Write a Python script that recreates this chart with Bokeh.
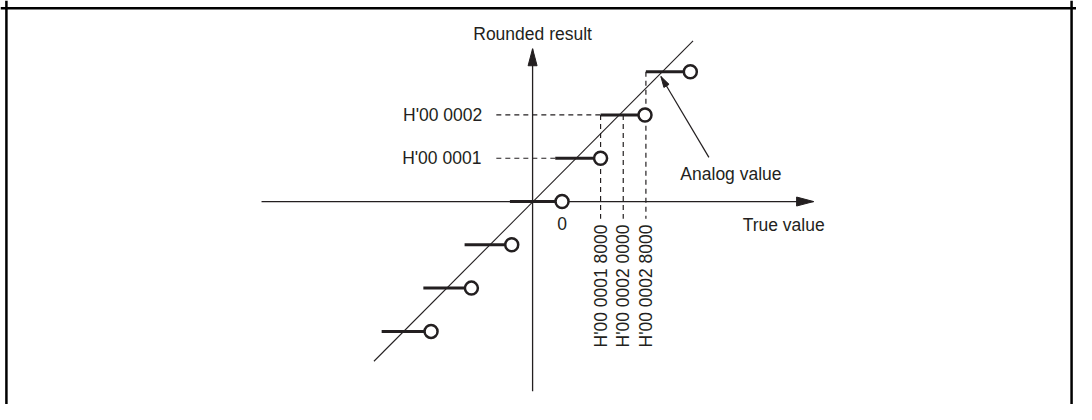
import math
from bokeh.plotting import figure
from bokeh.models import Range1d, Span
from bokeh.embed import file_html
from bokeh.resources import INLINE
from bokeh.core.properties import value

# ---------------- data (units: one LSB step) ----------------
levels = [-3, -2, -1, 0, 1, 2, 3]
step_start = [-3.33, -2.41, -1.50, -0.50, 0.50, 1.50, 2.50]
step_end = [-2.24, -1.35, -0.46, 0.65, 1.50, 2.48, 3.48]

analog_x = [-3.50, 3.54]
analog_y = [-3.69, 3.71]

x_axis_x = [-5.98, 6.20]
y_axis_y = [-4.38, 3.53]

y_tick_values = [1, 2]
y_tick_labels = ["H'00 0001", "H'00 0002"]
y_tick_label_x = [-1.13, -1.11]
y_guide_start = [-0.80, -0.80]
y_guide_end = [0.50, 1.50]

x_tick_values = [1.5, 2.0, 2.5]
x_tick_labels = ["H'00 0001 8000", "H'00 0002 0000", "H'00 0002 8000"]
x_guide_top = [2, 2, 3]
x_guide_bottom = [-0.40, -0.40, -0.40]
x_tick_label_top = [-0.53, -0.53, -0.53]

zero_label = ["0"]
zero_x = [0.65]
zero_y = [-0.51]

y_title = ["Rounded result"]
y_title_x = [0.0]
y_title_y = [3.87]

x_title = ["True value"]
x_title_x = [5.54]
x_title_y = [-0.55]

note_text = ["Analog value"]
note_x = [3.26]
note_y = [0.64]
note_arrow_from = (3.89, 1.02)
note_arrow_to = (2.83, 2.89)

# ---------------- layout ----------------
W, H = 1076, 404
SX, SY = W / 1092.0, H / 420.0
XU, YU = 46.0 * SX, 45.0 * SY          # pixels per unit
INK = "#231f20"
FONT = value("Liberation Sans")

x_start, x_end = -540 / 46.0, (1092 - 540) / 46.0
y_start, y_end = -(420 - 209) / 45.0, 209 / 45.0

p = figure(width=W, height=H, output_backend="svg", toolbar_location=None,
           x_range=Range1d(x_start, x_end), y_range=Range1d(y_start, y_end),
           x_axis_type=None, y_axis_type=None, min_border=0)
p.grid.visible = False
p.outline_line_color = None
p.background_fill_color = "white"
p.border_fill_color = "white"

# frame border (left, top, right)
for loc, dim in [(x_start + 6.0 / 46.0, "height"),
                 (y_end - 8.0 / 45.0, "width"),
                 (x_end - 5.0 / 46.0, "height")]:
    p.add_layout(Span(location=loc, dimension=dim, line_color="black", line_width=2.5))


def head(tip, frm, length_px, half_px):
    dx = (tip[0] - frm[0]) * XU
    dy = (tip[1] - frm[1]) * YU
    L = math.hypot(dx, dy)
    ux, uy = dx / L, dy / L
    nx, ny = -uy, ux
    bx, by = -ux * length_px, -uy * length_px
    pts = [(0, 0), (bx + nx * half_px, by + ny * half_px), (bx - nx * half_px, by - ny * half_px)]
    return [tip[0] + q[0] / XU for q in pts], [tip[1] + q[1] / YU for q in pts]


# axes
p.line(x_axis_x, [0, 0], line_color=INK, line_width=1.3)
p.line([0, 0], y_axis_y, line_color=INK, line_width=1.3)
hx, hy = head((x_axis_x[1], 0), (x_axis_x[0], 0), 17, 4.5)
p.patch(hx, hy, fill_color=INK, line_color=INK, line_width=1)
hx, hy = head((0, y_axis_y[1]), (0, y_axis_y[0]), 17, 4.5)
p.patch(hx, hy, fill_color=INK, line_color=INK, line_width=1)

# guides
p.segment(x0=y_guide_start, y0=y_tick_values, x1=y_guide_end, y1=y_tick_values,
          line_color=INK, line_width=1.2, line_dash="5 4")
p.segment(x0=x_tick_values, y0=x_guide_top, x1=x_tick_values, y1=x_guide_bottom,
          line_color=INK, line_width=1.2, line_dash="5 4")

# analog value line
p.line(analog_x, analog_y, line_color=INK, line_width=1.1)

# rounding steps
p.segment(x0=step_start, y0=levels, x1=step_end, y1=levels, line_color=INK, line_width=3)
p.scatter(step_end, levels, size=13, fill_color="white", line_color=INK, line_width=2.5)

# annotation arrow
p.line([note_arrow_from[0], note_arrow_to[0]], [note_arrow_from[1], note_arrow_to[1]],
       line_color=INK, line_width=1.2)
hx, hy = head(note_arrow_to, note_arrow_from, 11, 3)
p.patch(hx, hy, fill_color=INK, line_color=INK, line_width=1)

# texts
ts = "17.5px"
p.text(y_title_x, y_title_y, text=y_title, text_font=FONT, text_font_size=ts,
       text_color=INK, text_align="center", text_baseline="middle")
p.text(x_title_x, x_title_y, text=x_title, text_font=FONT, text_font_size=ts,
       text_color=INK, text_align="center", text_baseline="middle")
p.text(note_x, note_y, text=note_text, text_font=FONT, text_font_size=ts,
       text_color=INK, text_align="left", text_baseline="middle")
p.text(zero_x, zero_y, text=zero_label, text_font=FONT, text_font_size=ts,
       text_color=INK, text_align="center", text_baseline="middle")
p.text(y_tick_label_x, y_tick_values, text=y_tick_labels, text_font=FONT, text_font_size=ts,
       text_color=INK, text_align="right", text_baseline="middle")
p.text(x_tick_values, x_tick_label_top, text=x_tick_labels, text_font=FONT, text_font_size=ts,
       text_color=INK, text_align="right", text_baseline="middle", angle=math.pi / 2)

open("out.html", "w").write(file_html(p, INLINE))
